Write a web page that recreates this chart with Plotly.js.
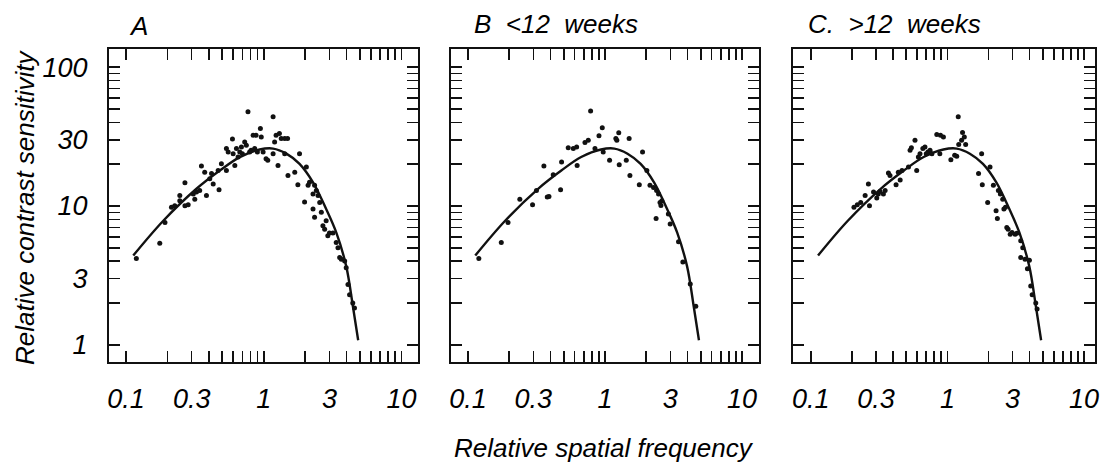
<!DOCTYPE html>
<html><head><meta charset="utf-8">
<script src="https://cdn.plot.ly/plotly-3.0.1.min.js"></script>
<style>html,body{margin:0;padding:0;background:#fff}#chart{width:1105px;height:465px}</style>
</head><body><div id="chart"></div>
<script>
// Fitted curve (same in all panels)
const curveX = [0.113, 0.186, 0.325, 0.48, 0.67, 0.935, 1.17, 1.46, 1.82, 2.28, 2.84, 3.36, 3.97, 4.44, 4.85];
const curveY = [4.4, 7.8, 13.3, 18.0, 22.5, 25.5, 25.9, 23.8, 20.1, 14.8, 9.5, 6.45, 3.69, 1.90, 1.08];

// Panel A data
const aX = [0.119,0.176,0.192,0.214,0.226,0.246,0.246,0.268,0.268,0.283,0.308,0.325,0.316,0.343,0.353,0.373,0.384,0.406,0.418,0.43,0.467,0.474,0.493,0.536,0.536,0.552,0.593,0.6,0.617,0.634,0.652,0.67,0.689,0.70,0.728,0.748,0.769,0.79,0.81,0.838,0.86,0.88,0.90,0.946,0.96,0.99,1.04,1.07,1.17,1.17,1.2,1.23,1.27,1.30,1.34,1.42,1.49,1.42,1.50,1.68,1.77,1.82,1.98,2.04,2.10,2.15,2.28,2.28,2.34,2.34,2.41,2.48,2.55,2.62,2.69,2.77,2.84,2.92,3.0,3.18,3.36,3.46,3.56,3.66,3.87,3.97,4.09,4.2,4.43,4.56];
const aY = [4.18,5.39,7.62,9.78,10.05,11.9,10.9,14.7,10.05,10.2,12.2,12.6,11.2,12.9,19.4,17.5,11.9,15.7,17.1,14.4,18.0,13.1,20.1,18.0,25.9,24.5,30.3,23.8,19.6,25.9,22.5,24.5,26.6,23.8,28.9,27.4,47.7,24.5,25.2,32.3,25.9,32.3,24.5,36.1,31.4,24.5,21.9,21.3,43.9,23.8,28.9,32.3,19.6,33.2,30.6,30.6,30.6,23.8,16.6,17.5,14.2,23.8,10.7,19.1,14.1,14.8,12.2,9.5,8.28,14.1,12.9,11.9,10.6,9.0,7.2,6.8,7.83,6.1,6.4,6.4,5.45,5.0,4.25,4.13,4.02,3.59,2.72,2.30,2.0,1.84];

// Panel B data (<12 weeks)
const bX = [0.120,0.175,0.196,0.239,0.296,0.316,0.358,0.379,0.39,0.419,0.474,0.482,0.539,0.587,0.621,0.626,0.714,0.755,0.785,0.845,0.904,0.955,0.97,1.08,1.20,1.22,1.26,1.27,1.43,1.50,1.52,1.78,1.88,2.02,2.13,2.26,2.36,2.38,2.46,2.52,2.56,2.60,2.90,2.99,3.44,3.70,4.19,4.60];
const bY = [4.18,5.45,7.62,11.2,10.2,12.9,19.4,11.6,11.7,16.8,13.1,20.7,26.2,25.9,26.6,19.6,28.6,29.7,48.3,25.9,32.0,36.5,24.5,21.3,30.6,29.7,33.6,19.8,21.3,30.6,16.6,14.2,24.5,18.0,14.1,13.6,8.14,12.9,12.2,10.6,10.1,10.9,8.75,7.41,5.52,3.95,2.75,1.90];

// Panel C data (>12 weeks)
const cX = [0.207,0.219,0.232,0.25,0.264,0.269,0.288,0.304,0.312,0.321,0.34,0.35,0.37,0.38,0.421,0.437,0.451,0.465,0.519,0.533,0.545,0.579,0.596,0.613,0.63,0.661,0.685,0.70,0.72,0.746,0.77,0.836,0.89,0.935,0.88,1.06,1.13,1.17,1.20,1.21,1.27,1.29,1.33,1.36,1.69,1.78,1.80,1.97,2.05,2.17,2.27,2.32,2.36,2.44,2.54,2.59,2.66,2.72,2.78,2.88,2.97,3.13,3.22,3.44,3.56,3.44,3.70,3.98,3.85,4.07,4.17,4.43,4.53];
const cY = [9.78,10.2,10.6,11.9,14.4,10.05,12.6,11.4,12.2,12.7,12.2,12.9,17.3,16.6,14.2,17.5,15.4,18.0,19.1,25.2,26.2,29.7,18.0,22.5,23.8,25.9,26.6,23.8,24.5,25.2,23.8,32.7,32.3,31.4,23.8,21.5,23.2,22.8,43.9,27.7,29.7,33.8,31.4,27.7,17.1,23.8,14.2,10.6,19.1,14.1,9.25,8.14,12.9,12.2,11.2,9.5,9.78,7.0,6.8,6.27,6.45,6.27,6.36,5.61,5.0,4.25,4.13,4.06,3.53,2.65,2.30,2.0,1.81];

// Tick values and labels
const xTickVals = [0.1,0.2,0.3,0.4,0.5,0.6,0.7,0.8,0.9,1,2,3,4,5,6,7,8,9,10];
const xTickText = ['0.1','','0.3','','','','','','','1','','3','','','','','','','10'];
const yTickVals = [1,2,3,4,5,6,7,8,9,10,20,30,40,50,60,70,80,90,100];
const yTickText = ['1','','3','','','','','','','10','','30','','','','','','','100'];

const panelTitles = ['A', 'B  &lt;12  weeks', 'C.  &gt;12  weeks'];
const xTitle = 'Relative spatial frequency';
const yTitle = 'Relative contrast sensitivity';

const W = 1105, H = 465;
const px = v => v / W, py = v => 1 - v / H;
const tickFont = {family: 'Liberation Sans Narrow, Arial Narrow, sans-serif', size: 27, color: '#000', style: 'italic'};
const titleFont = {family: 'Liberation Sans, Arial, sans-serif', size: 26, color: '#000', style: 'italic'};

function xa(dom, range, anchor) {
  return {type: 'log', domain: dom, range: range, anchor: anchor,
    tickmode: 'array', tickvals: xTickVals, ticktext: xTickText,
    ticks: 'inside', ticklen: 11, tickwidth: 1.6, tickcolor: '#111',
    showline: true, linewidth: 2, linecolor: '#111', mirror: 'ticks',
    showgrid: false, zeroline: false, tickfont: tickFont, ticklabelstandoff: 12};
}
function ya(anchor, showLabels) {
  return {type: 'log', domain: [py(362), py(49)], range: [-0.123, 2.13], anchor: anchor,
    tickmode: 'array', tickvals: yTickVals, ticktext: yTickText,
    ticks: 'inside', ticklen: 11, tickwidth: 1.6, tickcolor: '#111',
    showline: true, linewidth: 2, linecolor: '#111', mirror: 'ticks',
    showgrid: false, zeroline: false, tickfont: tickFont, showticklabels: showLabels,
    ticklabelstandoff: 14};
}

const marker = {color: '#111', size: 5};
const lineStyle = {color: '#111', width: 2.4, shape: 'spline'};
const traces = [];
[['x','y',aX,aY],['x2','y2',bX,bY],['x3','y3',cX,cY]].forEach(([xr,yr,X,Y]) => {
  traces.push({type:'scatter', mode:'markers', x:X, y:Y, xaxis:xr, yaxis:yr, marker:marker, hoverinfo:'skip'});
  traces.push({type:'scatter', mode:'lines', x:curveX, y:curveY, xaxis:xr, yaxis:yr, line:lineStyle, hoverinfo:'skip'});
});

const layout = {
  width: W, height: H, margin: {l:0, r:0, t:0, b:0},
  paper_bgcolor: '#fff', plot_bgcolor: '#fff', showlegend: false,
  xaxis: xa([px(109), px(418)], [-1.123, 1.12], 'y'),
  yaxis: ya('x', true),
  xaxis2: xa([px(451), px(759)], [-1.124, 1.124], 'y2'),
  yaxis2: ya('x2', false),
  xaxis3: xa([px(793), px(1095)], [-1.13, 1.08], 'y3'),
  yaxis3: ya('x3', false),
  annotations: [
    {text: panelTitles[0], x: px(127), y: py(26), xref:'paper', yref:'paper', xanchor:'left', yanchor:'middle', showarrow:false, font: titleFont},
    {text: panelTitles[1], x: px(472), y: py(24), xref:'paper', yref:'paper', xanchor:'left', yanchor:'middle', showarrow:false, font: titleFont},
    {text: panelTitles[2], x: px(806), y: py(24), xref:'paper', yref:'paper', xanchor:'left', yanchor:'middle', showarrow:false, font: titleFont},
    {text: xTitle, x: px(604), y: py(448), xref:'paper', yref:'paper', xanchor:'center', yanchor:'middle', showarrow:false, font: titleFont},
    {text: yTitle, x: px(25), y: py(207), xref:'paper', yref:'paper', xanchor:'center', yanchor:'middle', textangle: -90, showarrow:false, font: titleFont}
  ]
};
Plotly.newPlot('chart', traces, layout, {staticPlot: true, displayModeBar: false});
</script></body></html>
